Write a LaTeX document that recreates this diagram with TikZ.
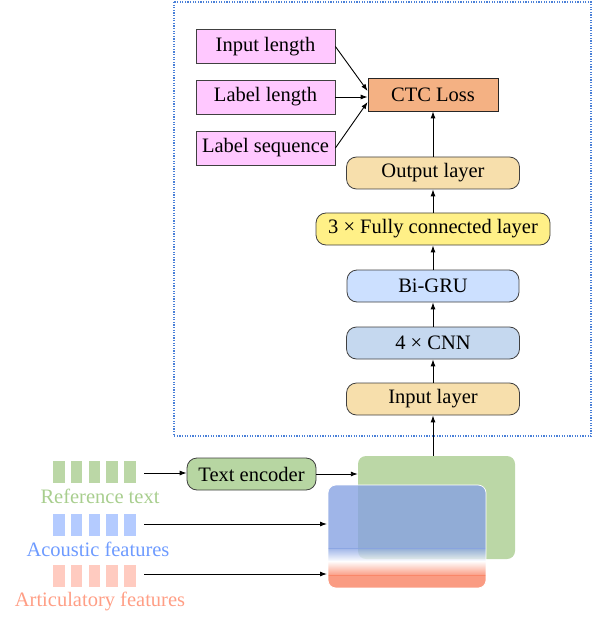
\documentclass[tikz,border=0pt]{standalone}
\usepackage{fontspec}
\setmainfont{Liberation Serif}
\usetikzlibrary{arrows.meta,calc}
\definecolor{pinkc}{RGB}{255,200,255}
\definecolor{ctcc}{RGB}{244,177,131}
\definecolor{wheatc}{RGB}{247,223,172}
\definecolor{yellowc}{RGB}{255,240,135}
\definecolor{grubl}{RGB}{204,224,255}
\definecolor{cnnbl}{RGB}{197,216,239}
\definecolor{encg}{RGB}{183,214,162}
\definecolor{greenc}{RGB}{187,215,166}
\definecolor{bluec}{RGB}{135,162,226}
\definecolor{redc}{RGB}{249,130,99}
\definecolor{gbar}{RGB}{187,215,166}
\definecolor{bbar}{RGB}{180,203,255}
\definecolor{rbar}{RGB}{255,203,192}
\definecolor{gtext}{RGB}{168,206,142}
\definecolor{btext}{RGB}{110,155,255}
\definecolor{rtext}{RGB}{255,158,133}
\definecolor{dotc}{RGB}{74,128,216}
\begin{document}
\begin{tikzpicture}[x=1pt,y=-1pt,
  font=\fontsize{20.5}{24}\selectfont,
  sqbox/.style={draw=black!75,line width=0.8pt,inner sep=0pt,minimum width=139pt,minimum height=34pt,fill=pinkc},
  rbox/.style={draw=black!75,line width=0.8pt,rounded corners=10pt,inner sep=0pt,minimum height=32pt},
  arr/.style={-{Latex[length=7pt,width=5pt]},line width=0.9pt}]
\useasboundingbox (0,0) rectangle (599,617);
% dotted frame
\draw[dotc,line width=1.1pt,dash pattern=on 1.2pt off 1.4pt] (174,2) rectangle (591,436);
% left inputs
\node[sqbox] (in1) at (265.5,46.5) {Input length};
\node[sqbox] (in2) at (265.5,97) {Label length};
\node[sqbox] (in3) at (265.5,148) {Label sequence};
\node[draw=black!85,line width=0.8pt,fill=ctcc,inner sep=0pt,minimum width=130pt,minimum height=33pt] (ctc) at (433,94.5) {CTC Loss};
% chain
\node[rbox,fill=wheatc,minimum width=173pt] (out) at (433,173) {Output layer};
\node[rbox,fill=yellowc,minimum width=234pt] (fc) at (433,229) {3 × Fully connected layer};
\node[rbox,fill=grubl,minimum width=172pt] (gru) at (433,286) {Bi-GRU};
\node[rbox,fill=cnnbl,minimum width=173pt] (cnn) at (433,343) {4 × CNN};
\node[rbox,fill=wheatc,minimum width=173pt] (inl) at (433,399) {Input layer};
\draw[arr] (in1.east) -- ([yshift=3.5pt]ctc.west);
\draw[arr] (in2.east) -- ([yshift=-2.5pt]ctc.west);
\draw[arr] (in3.east) -- ([yshift=-7.5pt]ctc.west);
\draw[arr] (out.north) -- (ctc.south);
\draw[arr] (fc.north) -- (out.south);
\draw[arr] (gru.north) -- (fc.south);
\draw[arr] (cnn.north) -- (gru.south);
\draw[arr] (inl.north) -- (cnn.south);
% fusion boxes
\node[fill=greenc,rounded corners=8pt,inner sep=0pt,minimum width=157pt,minimum height=103pt] (fus) at (436.5,507.5) {};
\begin{scope}
\clip[rounded corners=8pt] (328,485) rectangle (486,588);
\fill[bluec,fill opacity=0.8] (328,485) rectangle (486,548.5);
\shade[top color=bluec,bottom color=white,fill opacity=0.8] (328,548) rectangle (486,561.5);
\shade[top color=white,bottom color=redc,fill opacity=0.8] (328,561) rectangle (486,575.5);
\fill[redc,fill opacity=0.8] (328,575) rectangle (486,588);
\end{scope}
\draw[white,line width=0.7pt,rounded corners=8pt] (328,485) rectangle (486,588);
\coordinate (mixw) at (327,530);
\draw[arr] (inl.south |- fus.north) -- (inl.south);
% bars
\foreach \x in {53,70.75,88.5,106.25,124}{
  \fill[gbar] (\x,461) rectangle ++(11.5,22);
  \fill[bbar] (\x,514) rectangle ++(11.5,22);
  \fill[rbar] (\x,565) rectangle ++(11.5,22);
}
\node[text=gtext] (reft) at (100,496) {Reference text};
\node[text=btext] (acot) at (98,549) {Acoustic features};
\node[text=rtext] (artt) at (100,601) {Articulatory features};
\coordinate (refo) at (144,473);
\coordinate (acoo) at (144,524);
\coordinate (arto) at (144,574);
\node[rbox,fill=encg,minimum width=129pt] (enc) at (251.5,474) {Text encoder};
\draw[arr] (refo) -- (refo -| enc.west);
\draw[arr] (enc.east) -- (enc.east -| fus.west);
\draw[arr] (acoo) -- (acoo -| mixw);
\draw[arr] (arto) -- (arto -| mixw);
\end{tikzpicture}
\end{document}
